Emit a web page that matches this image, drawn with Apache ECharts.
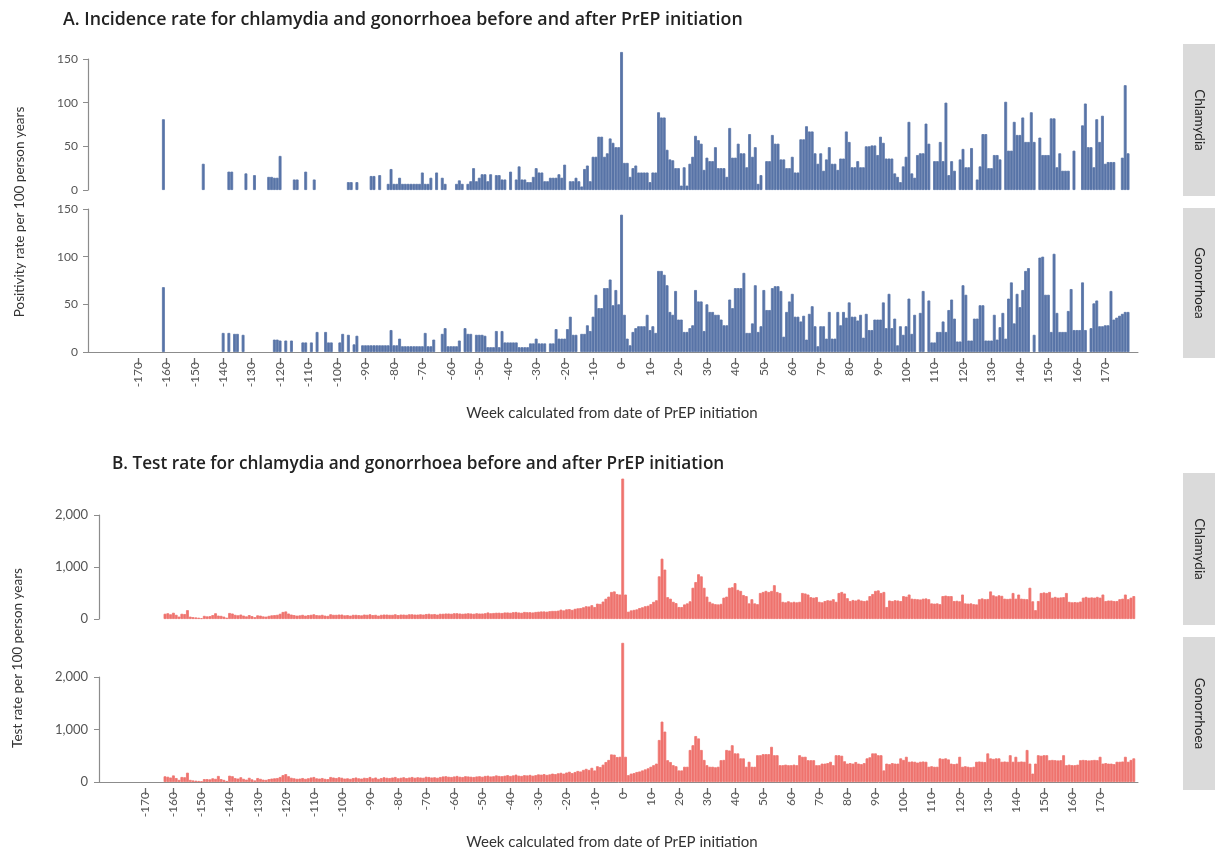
<!DOCTYPE html>
<html><head><meta charset="utf-8">
<script src="https://cdn.jsdelivr.net/npm/echarts@6/dist/echarts.min.js"></script>
<style>html,body{margin:0;padding:0;background:#fff}#c{width:1215px;height:850px}</style>
</head><body><div id="c"></div>
<script>
// Category axes (weeks from PrEP initiation)
const weeksA = []; for (let w = -187; w <= 181; w++) weeksA.push(String(w));
const weeksB = []; for (let w = -186; w <= 183; w++) weeksB.push(String(w));
const tickLabels = ['-170','-160','-150','-140','-130','-120','-110','-100','-90','-80','-70','-60','-50','-40','-30','-20','-10','0','10','20','30','40','50','60','70','80','90','100','110','120','130','140','150','160','170'];

// Panel A: positivity rate per 100 person years, weeks -163 .. 178
const startA = -163;
const chlamydiaIncidence = [
 0,0,81,0,0,0,0,0,0,0,
 0,0,0,0,0,0,30,0,0,0,
 0,0,0,0,0,21,21,0,0,0,
 0,19,0,0,17,0,0,0,0,15,
 15,14,14,39,0,0,0,0,12,12,
 0,0,21,0,0,12,0,0,0,0,
 0,0,0,0,0,0,0,9,9,0,
 9,0,0,0,0,16,16,0,17,0,
 0,7,24,7,7,14,7,7,7,7,
 7,7,7,20,7,7,14,0,20,0,
 14,7,0,0,0,7,11,7,0,7,
 10,25,10,14,18,18,10,18,0,17,
 17,12,12,0,21,0,12,27,12,12,
 9,9,15,25,20,20,10,10,14,14,
 14,18,14,29,0,10,10,14,10,4,
 24,28,10,38,38,61,61,38,42,59,
 54,49,49,158,31,31,15,25,28,20,
 20,20,20,9,20,20,89,83,83,46,
 35,34,25,25,5,26,5,30,38,62,
 57,53,23,37,33,33,49,25,25,25,
 15,71,37,37,53,42,42,26,64,38,
 49,7,17,0,33,33,63,53,53,35,
 35,25,25,38,20,20,58,58,73,67,
 67,42,30,42,22,35,49,30,30,23,
 36,36,67,55,26,26,33,26,26,50,
 50,51,51,40,61,54,36,36,36,19,
 15,9,27,38,78,19,14,40,42,42,
 76,53,0,33,33,55,33,100,17,33,
 22,0,35,47,26,26,48,0,12,27,
 64,64,25,25,40,40,35,0,101,45,
 45,78,63,63,83,55,55,89,55,0,
 60,40,40,40,82,82,26,42,22,22,
 22,0,45,0,0,74,99,49,49,26,
 81,55,85,30,32,32,32,0,0,37,
 120,42
];
const gonorrhoeaIncidence = [
 0,0,68,0,0,0,0,0,0,0,
 0,0,0,0,0,0,0,0,0,0,
 0,0,0,20,0,20,0,19,19,0,
 18,0,0,0,0,0,0,0,0,0,
 0,13,13,12,0,12,0,12,0,0,
 0,10,10,0,10,0,21,0,0,21,
 10,10,0,0,10,19,0,18,0,8,
 17,0,7,7,7,7,7,7,7,7,
 7,7,23,7,7,14,6,6,6,6,
 6,6,6,6,20,6,6,13,0,0,
 19,25,6,6,6,6,12,0,25,19,
 19,0,18,18,18,17,5,5,5,22,
 5,22,10,10,10,10,10,5,5,5,
 5,9,9,14,9,9,9,0,9,9,
 24,14,14,14,24,37,18,18,0,19,
 19,28,22,37,60,46,46,67,67,76,
 49,65,50,144,39,14,7,21,25,27,
 27,27,39,23,27,20,85,85,81,70,
 42,39,64,34,34,21,21,25,28,65,
 53,53,22,50,42,42,39,39,34,28,
 28,55,46,67,67,67,83,20,20,30,
 70,21,27,65,44,44,67,69,69,64,
 16,42,53,61,37,37,32,38,13,40,
 48,27,6,27,27,14,42,14,14,42,
 28,42,36,52,37,37,33,39,15,40,
 23,23,34,34,34,52,25,61,25,35,
 7,27,18,27,56,19,39,0,41,64,
 0,54,10,10,21,21,32,21,44,55,
 35,11,11,70,60,12,12,35,35,49,
 49,12,12,12,39,13,26,41,14,56,
 73,30,61,47,65,85,88,0,18,0,
 99,100,60,60,21,103,41,21,21,21,
 43,66,23,23,23,73,23,0,25,51,
 54,27,27,28,28,64,34,36,38,40,
 42,42
];

// Panel B: test rate per 100 person years, weeks -163 .. 182
const startB = -163;
const chlamydiaTests = [
 100,110,90,120,80,45,100,95,170,45,
 35,30,25,15,60,50,55,75,110,65,
 60,45,25,115,105,80,70,85,65,50,
 75,55,35,70,65,50,45,60,70,75,
 80,100,135,145,105,85,75,65,70,80,
 65,75,80,90,75,70,80,65,60,90,
 80,80,85,85,70,75,65,80,80,75,
 70,85,80,90,75,80,65,80,85,85,
 80,80,90,75,85,85,80,90,90,85,
 85,90,85,95,100,90,95,85,100,100,
 105,105,100,110,110,105,100,105,110,105,
 100,110,105,105,110,125,110,115,120,120,
 115,125,125,120,130,135,125,120,135,130,
 130,125,135,140,145,145,140,150,155,155,
 160,180,165,185,190,175,195,205,210,225,
 245,240,265,230,295,290,335,390,430,520,
 530,480,470,2700,470,140,165,175,185,210,
 225,245,255,285,330,360,820,1160,950,420,
 390,330,305,230,230,280,300,340,600,710,
 860,820,600,430,330,300,285,280,290,410,
 430,600,610,690,560,540,460,440,300,380,
 300,285,500,520,540,520,540,650,520,500,
 330,320,340,320,330,320,330,500,490,470,
 420,410,420,330,320,345,360,355,380,330,
 500,520,490,400,345,365,355,375,355,345,
 355,440,480,540,550,500,520,230,355,345,
 360,355,345,440,430,470,390,385,380,375,
 390,395,380,300,295,300,285,440,450,440,
 440,345,350,340,470,300,295,300,285,280,
 380,395,380,385,530,455,435,455,445,390,
 385,390,500,390,470,390,385,380,600,340,
 170,345,500,510,500,520,410,425,410,415,
 420,500,330,320,325,320,335,410,425,410,
 415,410,425,410,470,345,355,355,345,345,
 380,390,470,380,410,440
];
const gonorrhoeaTests = [
 108,100,85,125,75,40,95,90,177,40,
 30,25,20,10,55,55,50,70,60,115,
 55,40,20,120,110,75,65,90,60,45,
 80,50,30,75,60,45,40,55,65,70,
 75,95,130,150,110,80,70,60,65,75,
 60,70,85,95,70,65,75,60,55,95,
 85,75,90,80,65,70,60,75,85,70,
 65,80,75,95,70,85,60,75,90,80,
 75,85,95,70,80,90,75,85,95,80,
 90,85,80,100,95,85,90,80,95,105,
 110,100,95,105,115,100,95,110,105,100,
 95,105,110,100,115,120,105,110,125,115,
 110,120,130,115,125,140,120,115,130,125,
 135,120,130,145,140,150,135,145,160,150,
 165,175,160,180,195,170,190,210,200,230,
 250,230,270,220,300,285,330,380,420,525,
 520,475,480,2650,480,130,160,170,190,200,
 220,240,260,290,320,350,800,1150,960,415,
 380,320,300,220,220,290,290,610,700,875,
 830,610,420,320,290,290,280,290,415,420,
 610,600,700,545,545,450,450,290,385,290,
 290,510,510,530,530,530,670,510,510,320,
 320,330,320,320,330,320,510,480,480,415,
 415,415,320,320,350,350,360,385,320,510,
 510,500,395,350,360,350,380,350,340,360,
 450,470,545,545,510,510,220,350,340,360,
 350,350,450,420,480,385,390,385,370,385,
 390,385,290,300,290,290,450,440,450,430,
 350,340,350,480,290,300,290,280,290,385,
 390,385,380,545,450,440,450,450,385,390,
 385,510,385,480,385,390,385,610,350,160,
 350,510,500,510,510,415,420,415,410,415,
 510,320,330,320,320,330,415,420,415,410,
 415,420,415,480,350,360,350,350,340,385,
 385,390,480,385,420,450
];

function align(cats, start, arr) {
  return cats.map(c => { const i = Number(c) - start; return (i >= 0 && i < arr.length && arr[i] > 0) ? arr[i] : null; });
}

const FONT = 'Lato, "Open Sans", sans-serif';
const TFONT = '"Open Sans", Lato, sans-serif';
const AX = '#8c8c8c';
const LAB = '#555';
const isTick = (i, v) => tickLabels.indexOf(v) >= 0;

function mainX(grid, cats, showLine) {
  return { type: 'category', gridIndex: grid, position: 'bottom', data: cats, boundaryGap: true,
    axisLine: { show: showLine, lineStyle: { color: AX, width: 1 } },
    axisTick: { show: false }, axisLabel: { show: false }, splitLine: { show: false } };
}
function tickX(grid, cats) {
  return { type: 'category', gridIndex: grid, position: 'bottom', data: cats, boundaryGap: true, offset: 6,
    axisLine: { show: false },
    axisTick: { show: true, alignWithLabel: true, interval: isTick, length: 7, lineStyle: { color: '#666', width: 1.3 } },
    axisLabel: { show: true, rotate: 90, interval: isTick, margin: 4, fontFamily: FONT, fontSize: 12, color: LAB },
    splitLine: { show: false } };
}
function yAx(grid, max, interval, margin, fsize) {
  return { type: 'value', gridIndex: grid, position: 'left', min: 0, max: max, interval: interval,
    axisLine: { show: true, lineStyle: { color: AX, width: 1.2 } },
    axisTick: { show: true, length: 5, lineStyle: { color: AX } },
    axisLabel: { fontFamily: FONT, fontSize: fsize, color: LAB, margin: margin,
      formatter: v => v.toLocaleString('en-US') },
    splitLine: { show: false } };
}
function bars(xi, yi, data, color) {
  return { type: 'bar', xAxisIndex: xi, yAxisIndex: yi, data: data, clip: false,
    barCategoryGap: '0%', barGap: '0%', itemStyle: { color: color, borderColor: color, borderWidth: 0.8 },
    silent: true, animation: false };
}
function strip(y, h, label) {
  return [
    { type: 'rect', shape: { x: 1183, y: y, width: 32, height: h }, style: { fill: '#dadada' } },
    { type: 'text', x: 1199, y: y + h / 2, rotation: -Math.PI / 2,
      style: { text: label, font: '13.5px ' + FONT, fill: '#222', textAlign: 'center', textVerticalAlign: 'middle' } }
  ];
}
function txt(x, y, s, font, rot) {
  return { type: 'text', x: x, y: y, rotation: rot || 0,
    style: { text: s, font: font, fill: '#333', textAlign: 'center', textVerticalAlign: 'middle' } };
}

const BLUE = '#5874a7';
const RED = '#ef736e';

const option = {
  backgroundColor: '#fff',
  animation: false,
  title: [
    { text: 'A. Incidence rate for chlamydia and gonorrhoea before and after PrEP initiation', left: 58, top: 6,
      textStyle: { fontFamily: TFONT, fontSize: 17.8, fontWeight: 600, color: '#222' } },
    { text: 'B. Test rate for chlamydia and gonorrhoea before and after PrEP initiation', left: 107, top: 451,
      textStyle: { fontFamily: TFONT, fontSize: 17.2, fontWeight: 600, color: '#222' } }
  ],
  grid: [
    { left: 88, width: 1050, top: 59, height: 131 },
    { left: 88, width: 1050, top: 209, height: 143 },
    { left: 99, width: 1039, top: 515, height: 104 },
    { left: 99, width: 1039, top: 677, height: 105 }
  ],
  xAxis: [
    mainX(0, weeksA, false),
    mainX(1, weeksA, true),
    tickX(1, weeksA),
    mainX(2, weeksB, false),
    mainX(3, weeksB, true),
    tickX(3, weeksB)
  ],
  yAxis: [
    yAx(0, 150, 50, 10, 12),
    yAx(1, 150, 50, 10, 12),
    yAx(2, 2000, 1000, 11, 13),
    yAx(3, 2000, 1000, 11, 13)
  ],
  series: [
    bars(0, 0, align(weeksA, startA, chlamydiaIncidence), BLUE),
    bars(1, 1, align(weeksA, startA, gonorrhoeaIncidence), BLUE),
    bars(3, 2, align(weeksB, startB, chlamydiaTests), RED),
    bars(4, 3, align(weeksB, startB, gonorrhoeaTests), RED)
  ],
  graphic: [
    ...strip(44, 152, 'Chlamydia'),
    ...strip(208, 150, 'Gonorrhoea'),
    ...strip(473, 152, 'Chlamydia'),
    ...strip(637, 153, 'Gonorrhoea'),
    txt(20, 212, 'Positivity rate per 100 person years', '13.5px ' + FONT, Math.PI / 2),
    txt(18, 658, 'Test rate per 100 person years', '13.5px ' + FONT, Math.PI / 2),
    txt(612, 413, 'Week calculated from date of PrEP initiation', '15px ' + FONT),
    txt(612, 842, 'Week calculated from date of PrEP initiation', '15px ' + FONT)
  ]
};

const chart = echarts.init(document.getElementById('c'), null, { renderer: 'canvas' });
chart.setOption(option);
</script>
</body></html>
